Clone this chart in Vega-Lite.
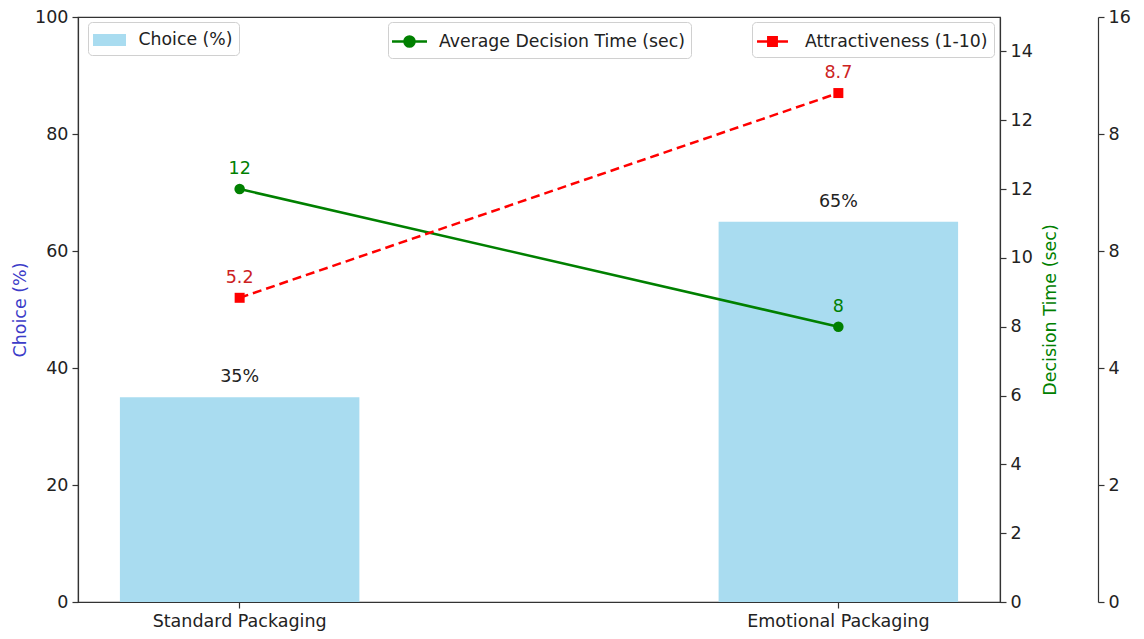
{
  "$schema": "https://vega.github.io/schema/vega-lite/v6.json",
  "width": 922,
  "height": 585,
  "autosize": {"type": "none"},
  "padding": {"left": 78, "top": 17, "right": 144, "bottom": 37},
  "background": "white",
  "data": {
    "values": [
      {"pkg": "Standard Packaging", "choice": 35, "choiceLabel": "35%", "time": 12, "attr": 5.2},
      {"pkg": "Emotional Packaging", "choice": 65, "choiceLabel": "65%", "time": 8, "attr": 8.7}
    ]
  },
  "config": {
    "font": "DejaVu Sans",
    "view": {"stroke": "#333", "strokeWidth": 1.2},
    "axis": {
      "labelFont": "DejaVu Sans", "labelFontSize": 17.5, "labelColor": "#222",
      "tickColor": "#333", "domainColor": "#333", "tickSize": 6, "tickWidth": 1.2,
      "domainWidth": 1.2, "grid": false, "titleFont": "DejaVu Sans",
      "titleFontSize": 17.5, "titleFontWeight": "normal", "labelPadding": 4, "labelLimit": 400
    },
    "legend": {
      "labelFont": "DejaVu Sans", "labelFontSize": 17.3, "labelColor": "#222",
      "strokeColor": "#d0d0d0", "fillColor": "white", "cornerRadius": 4,
      "padding": 6, "orient": "none", "title": null, "symbolSize": 576, "labelLimit": 500
    }
  },
  "encoding": {
    "x": {
      "field": "pkg", "type": "nominal", "sort": null,
      "scale": {"paddingInner": 0.6, "paddingOuter": 0.07},
      "axis": {"title": null, "labelAngle": 0}
    }
  },
  "layer": [
    {
      "encoding": {
        "y": {
          "field": "choice", "type": "quantitative",
          "scale": {"domain": [0, 100], "nice": false},
          "axis": {"orient": "left", "title": "Choice (%)", "titleColor": "#3c3cc8",
                   "values": [0, 20, 40, 60, 80, 100], "titlePadding": 5}
        }
      },
      "layer": [
        {
          "mark": {"type": "bar"},
          "encoding": {
            "color": {
              "datum": "Choice (%)",
              "scale": {"range": ["#a9dcf0"]},
              "legend": {
                "legendX": 10, "legendY": 5,
                "symbolType": "M-1.375,-0.5H1.375V0.5H-1.375Z",
                "symbolStrokeWidth": 0, "symbolFillColor": "#a9dcf0",
                "symbolOffset": 3.5, "labelOffset": 17
              }
            }
          }
        },
        {
          "mark": {"type": "text", "dy": -20, "fontSize": 17.5, "color": "#222", "baseline": "middle"},
          "encoding": {"text": {"field": "choiceLabel"}}
        }
      ]
    },
    {
      "encoding": {
        "y": {
          "field": "time", "type": "quantitative",
          "scale": {"domain": [0, 17], "nice": false},
          "axis": {
            "orient": "right", "title": "Decision Time (sec)", "titleColor": "green",
            "titleAngle": 270, "titleBaseline": "top", "titlePadding": 9,
            "values": [0, 2, 4, 6, 8, 10, 12, 14, 16],
            "labelExpr": "datum.value == 16 ? '14' : datum.value == 14 ? '12' : datum.label"
          }
        }
      },
      "layer": [
        {
          "mark": {"type": "line", "strokeWidth": 2.5},
          "encoding": {
            "color": {
              "datum": "Average Decision Time (sec)",
              "scale": {"range": ["green"]},
              "legend": {
                "legendX": 310, "legendY": 5,
                "symbolType": "M-1.458,0H1.458M-0.42,0A0.42,0.42 0 1 1 0.42,0A0.42,0.42 0 1 1 -0.42,0Z",
                "symbolStrokeWidth": 2.5, "symbolFillColor": "green", "symbolStrokeColor": "green",
                "symbolOffset": 2, "labelOffset": 16
              }
            }
          }
        },
        {
          "mark": {"type": "point", "shape": "circle", "filled": true, "size": 110, "color": "green", "opacity": 1}
        },
        {
          "mark": {"type": "text", "dy": -20, "fontSize": 17.5, "color": "green", "baseline": "middle"},
          "encoding": {"text": {"field": "time", "format": "d"}}
        }
      ]
    },
    {
      "encoding": {
        "y": {
          "field": "attr", "type": "quantitative",
          "scale": {"domain": [0, 10], "nice": false},
          "axis": {
            "orient": "right", "offset": 98, "title": null,
            "values": [0, 2, 4, 6, 8, 10],
            "labelExpr": "datum.value == 10 ? '16' : datum.value == 6 ? '8' : datum.label"
          }
        }
      },
      "layer": [
        {
          "mark": {"type": "line", "strokeWidth": 2.5, "strokeDash": [9, 5]},
          "encoding": {
            "color": {
              "datum": "Attractiveness (1-10)",
              "scale": {"range": ["red"]},
              "legend": {
                "legendX": 674, "legendY": 5,
                "symbolType": "M-1.29,0H1.29M-0.35,-0.35H0.35V0.35H-0.35Z",
                "symbolStrokeWidth": 2.5, "symbolFillColor": "red", "symbolStrokeColor": "red",
                "symbolOffset": 1, "labelOffset": 19
              }
            }
          }
        },
        {
          "mark": {"type": "point", "shape": "square", "filled": true, "size": 100, "color": "red", "opacity": 1}
        },
        {
          "mark": {"type": "text", "dy": -20, "fontSize": 17.5, "color": "#cc2222", "baseline": "middle"},
          "encoding": {"text": {"field": "attr", "format": ".1f"}}
        }
      ]
    }
  ],
  "resolve": {"scale": {"y": "independent", "color": "independent"}}
}
